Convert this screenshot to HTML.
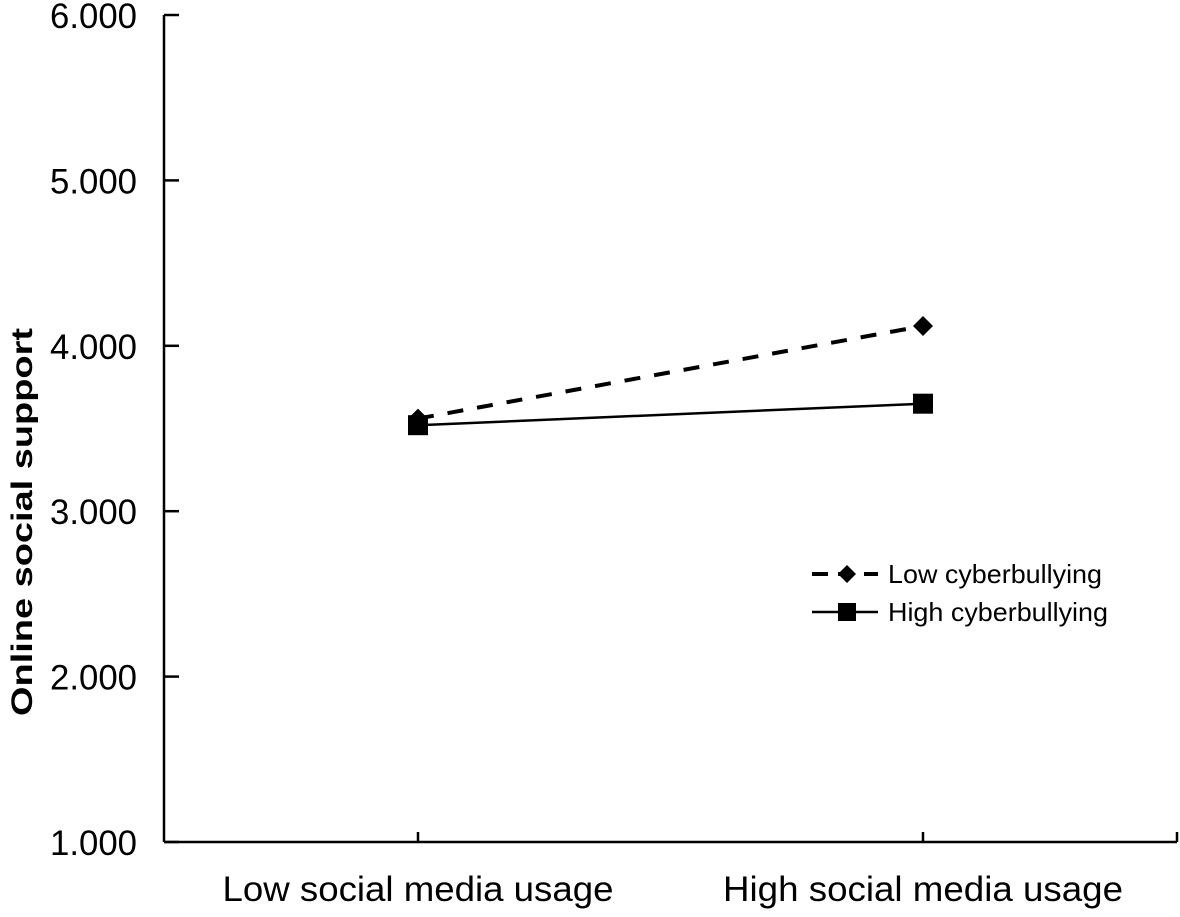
<!DOCTYPE html>
<html><head><meta charset="utf-8"><style>
body{margin:0;background:#fff;width:1180px;height:912px;overflow:hidden}
svg{font-family:"Liberation Sans",Arial,sans-serif}
</style></head><body>
<svg id="c" width="1180" height="912"></svg>
<script>
const categories=["Low social media usage","High social media usage"];
const lowCyber=[3.56,4.12];
const highCyber=[3.52,3.65];
const yTicks=[1,2,3,4,5,6];
const yTickLabels=["1.000","2.000","3.000","4.000","5.000","6.000"];
const seriesNames=["Low cyberbullying","High cyberbullying"];
const NS="http://www.w3.org/2000/svg";
const svg=document.getElementById('c');
const x0=164,x1=1177,yTop=15,yBot=842;
const catX=[418,923];
function y(v){return yBot-(v-1)/(6-1)*(yBot-yTop);}
function mk(t,a,p){const e=document.createElementNS(NS,t);for(const k in a)e.setAttribute(k,a[k]);(p||svg).appendChild(e);return e;}
let g=mk('g',{});


mk('line',{x1:x0,y1:yTop,x2:x0,y2:yBot,stroke:'#000','stroke-width':2.5},g);
yTicks.forEach((v,i)=>{
  mk('line',{x1:x0,y1:y(v),x2:x0+15,y2:y(v),stroke:'#000','stroke-width':2.5},g);
  const t=mk('text',{x:137,y:y(v)+13,'text-anchor':'end','font-size':35,fill:'#000',textLength:87,lengthAdjust:'spacingAndGlyphs'},g);
  t.textContent=yTickLabels[i];
  
  
});
const yt=mk('text',{x:0,y:0,transform:'translate(32,522) rotate(-90)','text-anchor':'middle','font-size':30,'font-weight':'bold',textLength:388,lengthAdjust:'spacingAndGlyphs'});
yt.textContent='Online social support';


let gx=mk('g',{});


mk('line',{x1:x0,y1:yBot,x2:x1,y2:yBot,stroke:'#000','stroke-width':2.5},gx);
mk('line',{x1:x1,y1:yBot-10,x2:x1,y2:yBot,stroke:'#000','stroke-width':2.5},gx);
categories.forEach((c,i)=>{
  mk('line',{x1:catX[i],y1:yBot-10,x2:catX[i],y2:yBot,stroke:'#000','stroke-width':2.5},gx);
  const t=mk('text',{x:catX[i],y:901,'text-anchor':'middle','font-size':35,textLength:i?400:391,lengthAdjust:'spacingAndGlyphs'},gx);
  t.textContent=c;
  
  
});
function diamond(cx,cy,s,p){return mk('polygon',{points:`${cx},${cy-s} ${cx+s},${cy} ${cx},${cy+s} ${cx-s},${cy}`,fill:'#000'},p);}
function square(cx,cy,s,p){return mk('rect',{x:cx-s,y:cy-s,width:2*s,height:2*s,fill:'#000'},p);}
let s1=mk('g',{});


mk('line',{x1:catX[0],y1:y(lowCyber[0]),x2:catX[1],y2:y(lowCyber[1]),stroke:'#000','stroke-width':4,'stroke-dasharray':'16,14'},s1);
lowCyber.forEach((v,i)=>{const d=diamond(catX[i],y(v),10,s1);});
let s2=mk('g',{});


mk('line',{x1:catX[0],y1:y(highCyber[0]),x2:catX[1],y2:y(highCyber[1]),stroke:'#000','stroke-width':2.5},s2);
highCyber.forEach((v,i)=>{const d=square(catX[i],y(v),10,s2);});
let lg=mk('g',{});


mk('line',{x1:812,y1:574,x2:878,y2:574,stroke:'#000','stroke-width':4,'stroke-dasharray':'16,10'},lg);
diamond(847,574,9,lg);
let l1=mk('text',{x:888,y:583,'font-size':26,textLength:214,lengthAdjust:'spacingAndGlyphs'},lg);l1.textContent=seriesNames[0];


mk('line',{x1:812,y1:612,x2:878,y2:612,stroke:'#000','stroke-width':2.5},lg);
square(847,612,9,lg);
let l2=mk('text',{x:888,y:621,'font-size':26,textLength:220,lengthAdjust:'spacingAndGlyphs'},lg);l2.textContent=seriesNames[1];


</script>
</body></html>
